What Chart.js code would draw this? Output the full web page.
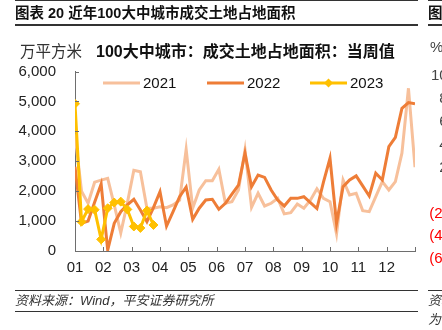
<!DOCTYPE html>
<html>
<head>
<meta charset="utf-8">
<script src="https://cdn.jsdelivr.net/npm/chart.js@4.4.0/dist/chart.umd.min.js"></script>
<style>
  body { margin: 0; background: #fff; }
  #wrap { position: relative; width: 442px; height: 330px; overflow: hidden; background: #fff;
          font-family: "Liberation Sans", "Noto Sans CJK SC", sans-serif; color: #222; }
  #c { position: absolute; left: 0; top: 0; }
  .t { position: absolute; white-space: nowrap; line-height: 20px; }
  .hr { position: absolute; height: 0; border-top: 1.5px solid #333; }
  .r { text-align: right; width: 60px; font-size: 15px; color: #444; }
</style>
</head>
<body>
<div id="wrap">
  <canvas id="c" width="442" height="330"></canvas>

  <!-- kopf -->
  <div class="hr" style="left:15px;width:403px;top:0px;"></div>
  <div class="hr" style="left:428px;width:20px;top:0px;"></div>
  <div class="t" style="left:15px;top:3px;font-size:14.5px;font-weight:bold;color:#111;">图表 20 近年100大中城市成交土地占地面积</div>
  <div class="t" style="left:428px;top:3px;font-size:14.5px;font-weight:bold;color:#111;">图表</div>
  <div class="hr" style="left:15px;width:403px;top:24px;border-top-width:2px;"></div>
  <div class="hr" style="left:428px;width:20px;top:24px;border-top-width:2px;"></div>

  <!-- untertitel -->
  <div class="t" style="left:20px;top:42px;font-size:15.5px;color:#333;">万平方米</div>
  <div class="t" style="left:96px;top:42px;font-size:16px;font-weight:bold;color:#111;">100大中城市：成交土地占地面积：当周值</div>

  <!-- nachbar-grafik (abgeschnitten) -->
  <div class="t" style="left:430px;top:37px;font-size:15px;color:#444;">%</div>
  <div class="t r" style="left:396px;top:65px;">100</div>
  <div class="t r" style="left:396px;top:88px;">80</div>
  <div class="t r" style="left:396px;top:111px;">60</div>
  <div class="t r" style="left:396px;top:134px;">40</div>
  <div class="t r" style="left:396px;top:157px;">20</div>
  <div class="t r" style="left:396px;top:203px;color:#f00;">(20)</div>
  <div class="t r" style="left:396px;top:225px;color:#f00;">(40)</div>
  <div class="t r" style="left:396px;top:248px;color:#f00;">(60)</div>

  <!-- fuss -->
  <div class="hr" style="left:15px;width:403px;top:290px;border-top-width:1px;"></div>
  <div class="hr" style="left:428px;width:20px;top:290px;border-top-width:1px;"></div>
  <div class="t" style="left:15px;top:291px;font-size:13px;font-style:italic;color:#333;">资料来源：Wind，平安证券研究所</div>
  <div class="t" style="left:428px;top:291px;font-size:13px;font-style:italic;color:#333;">资料</div>
  <div class="t" style="left:428px;top:310px;font-size:13px;font-style:italic;color:#333;">为</div>
  <div class="hr" style="left:15px;width:403px;top:311px;border-top-width:1px;"></div>
</div>

<script>
/* -------- Daten -------- */
const months = ["01", "02", "03", "04", "05", "06", "07", "08", "09", "10", "11", "12"];
const seriesNames = ["2021", "2022", "2023"];

// Wochenwerte, 万平方米
const y2021 = [3900, 2000, 1600, 2300, 2370, 2430, 1540, 600, 1600, 2700, 2650, 1430, 1430,
  1480, 1450, 1540, 1700, 3400, 1430, 2040, 2350, 2350, 2730, 1595, 1650, 2040, 3380,
  1460, 1930, 1505, 1595, 1760, 1240, 1280, 1570, 1430, 1700, 2080, 1760, 1650, 570,
  2375, 1870, 1930, 1350, 1315, 1815, 2320, 2040, 2320, 3270, 5440, 2800];
const y2022 = [2820, 925, 1000, 1630, 2240, 30, 925, 1315, 1540, 1730, 1370, 980, 1450,
  1980, 830, 1315, 1815, 2140, 1060, 1430, 1705, 1730, 1395, 1595, 1900, 2200, 3270,
  2150, 2540, 2460, 2040, 1705, 1505, 1760, 1760, 1815, 1620, 1420, 2300, 3100, 925,
  2150, 2375, 2510, 2175, 1840, 2600, 2375, 3490, 3800, 4770, 4960, 4920];
const y2023 = [4920, 980, 1400, 1380, 390, 1430, 1620, 1650, 1390, 820, 770, 1350, 870];

const yTicks = [0, 1000, 2000, 3000, 4000, 5000, 6000];

/* -------- Hilfen -------- */
const lastWeek = y2021.length - 1;
const toPoints = arr => arr.map((v, i) => ({ x: i, y: v }));
const monthTicks = months.map((m, i) => i * lastWeek / months.length).concat(lastWeek);

// Ticks nach innen zeichnen
const innerTicks = {
  id: "innerTicks",
  afterDraw(chart) {
    const { ctx, chartArea: a, scales: { x, y } } = chart;
    ctx.save();
    ctx.strokeStyle = "#6e6e6e";
    ctx.lineWidth = 1;
    ctx.beginPath();
    yTicks.forEach(v => {
      const py = Math.round(y.getPixelForValue(v)) + 0.5;
      ctx.moveTo(a.left, py); ctx.lineTo(a.left + 4, py);
    });
    monthTicks.forEach(v => {
      const px = Math.round(x.getPixelForValue(v)) + 0.5;
      ctx.moveTo(px, a.bottom); ctx.lineTo(px, a.bottom - 4);
    });
    ctx.stroke();
    ctx.restore();
  }
};

// Legende oben im Diagramm
const legendX = [103, 207, 310];
const legendPlugin = {
  id: "topLegend",
  afterDraw(chart) {
    const ctx = chart.ctx;
    const ly = 83;
    ctx.save();
    chart.data.datasets.forEach((ds, i) => {
      const x0 = legendX[i];
      ctx.strokeStyle = ds.borderColor;
      ctx.lineWidth = 3;
      ctx.beginPath();
      ctx.moveTo(x0, ly); ctx.lineTo(x0 + 37, ly);
      ctx.stroke();
      if (ds.pointStyle === "rectRot") {
        ctx.fillStyle = ds.pointBackgroundColor;
        ctx.beginPath();
        ctx.moveTo(x0 + 18.5, ly - 4.5); ctx.lineTo(x0 + 23, ly);
        ctx.lineTo(x0 + 18.5, ly + 4.5); ctx.lineTo(x0 + 14, ly);
        ctx.closePath(); ctx.fill();
      }
      ctx.fillStyle = "#111";
      ctx.font = "15px 'Liberation Sans', sans-serif";
      ctx.textBaseline = "middle";
      ctx.fillText(ds.label, x0 + 40, ly + 1);
    });
    ctx.restore();
  }
};

/* -------- Chart -------- */
new Chart(document.getElementById("c"), {
  type: "line",
  data: {
    datasets: [
      {
        label: seriesNames[0], data: toPoints(y2021), order: 3,
        borderColor: "#f7c09b", borderWidth: 3, pointRadius: 0, tension: 0
      },
      {
        label: seriesNames[1], data: toPoints(y2022), order: 2,
        borderColor: "#ee7d37", borderWidth: 3, pointRadius: 0, tension: 0
      },
      {
        label: seriesNames[2], data: toPoints(y2023), order: 1,
        borderColor: "#ffc000", borderWidth: 3, tension: 0,
        pointStyle: "rectRot", pointRadius: 4.5, pointBackgroundColor: "#ffc000",
        pointBorderColor: "#ffc000", pointBorderWidth: 1
      }
    ]
  },
  options: {
    responsive: false,
    animation: false,
    layout: { padding: { top: 71.5, right: 27, left: 0, bottom: 0 } },
    plugins: { legend: { display: false }, tooltip: { enabled: false } },
    scales: {
      x: {
        type: "linear", min: 0, max: lastWeek,
        afterBuildTicks: s => { s.ticks = monthTicks.map(v => ({ value: v })); },
        afterFit: s => { s.height = 79; },
        grid: { display: false, drawTicks: false },
        border: { display: true, color: "#6e6e6e", width: 1 },
        ticks: {
          autoSkip: false, maxRotation: 0, padding: 8,
          color: "#222", font: { size: 15, family: "'Liberation Sans', sans-serif" },
          callback: (v, i) => months[i] ?? ""
        }
      },
      y: {
        min: 0, max: 6000,
        afterBuildTicks: s => { s.ticks = yTicks.map(v => ({ value: v })); },
        afterFit: s => { s.width = 75; },
        grid: { display: false, drawTicks: false },
        border: { display: true, color: "#6e6e6e", width: 1 },
        ticks: {
          padding: 19,
          color: "#222", font: { size: 15, family: "'Liberation Sans', sans-serif" },
          callback: v => v.toLocaleString("en-US")
        }
      }
    }
  },
  plugins: [innerTicks, legendPlugin]
});
</script>
</body>
</html>
